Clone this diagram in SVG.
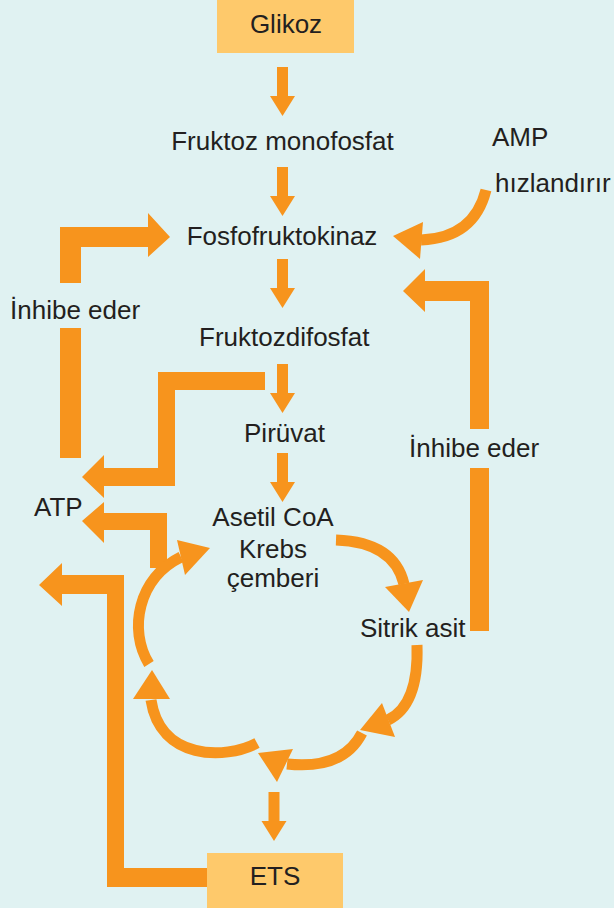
<svg xmlns="http://www.w3.org/2000/svg" width="614" height="908" viewBox="0 0 614 908">
<style>
.t{font-family:"Liberation Sans",Arial,sans-serif;font-size:26px;fill:#231F20}
.m{text-anchor:middle}
.o{fill:#F7941D}
.s{fill:none;stroke:#F7941D;stroke-width:11}
.box{fill:#FEC96B}
</style>
<defs>
<path id="da" d="M-5.5 0H5.5V29H12.5L0 49L-12.5 29H-5.5Z"/>
</defs>
<rect width="614" height="908" fill="#E0F2F2"/>
<g id="glikoz"><rect class="box" x="217" y="0" width="137" height="53"/><text class="t m" x="286" y="33">Glikoz</text></g>
<g id="fruktoz-monofosfat"><text class="t m" x="282.5" y="150">Fruktoz monofosfat</text></g>
<g id="fosfofruktokinaz"><text class="t m" x="282" y="245">Fosfofruktokinaz</text></g>
<g id="fruktozdifosfat"><text class="t" x="199" y="346">Fruktozdifosfat</text></g>
<g id="piruvat"><text class="t m" x="284.5" y="442">Pirüvat</text></g>
<g id="krebs"><text class="t m" x="273" y="526">Asetil CoA</text><text class="t m" x="273" y="558">Krebs</text><text class="t m" x="273" y="587">çemberi</text></g>
<g id="atp"><text class="t" x="34" y="516">ATP</text></g>
<g id="sitrik-asit"><text class="t" x="360" y="637">Sitrik asit</text></g>
<g id="amp"><text class="t" x="492" y="146">AMP</text><text class="t" x="495" y="192">hızlandırır</text></g>
<g id="ets"><rect class="box" x="207" y="853" width="136" height="55"/><text class="t m" x="275" y="885">ETS</text></g>
<g id="connectors">
<use href="#da" class="o" x="282.5" y="67"/>
<use href="#da" class="o" x="282.5" y="167"/>
<use href="#da" class="o" x="282.5" y="259"/>
<use href="#da" class="o" x="282.5" y="364"/>
<use href="#da" class="o" x="282.5" y="453"/>
<use href="#da" class="o" x="274" y="792"/>
<path class="o" d="M60 283V227H148V213L170 237L148 257V247H81V283Z"/>
<rect class="o" x="60" y="328" width="21" height="130"/>
<text class="t" x="10" y="319">İnhibe eder</text>
<path class="o" d="M265 372H158V468H104V455L82 477L104 498V486H175V390H265Z"/>
<path class="o" d="M167 568V513H104V502L82 521L104 543V530H150V568Z"/>
<path class="o" d="M207 868H124V575H62V563L39 585L62 606V594H107V887H207Z"/>
<path class="o" d="M470 429V301H425V312L403 291L425 269V281H489V429Z"/>
<rect class="o" x="470" y="468" width="19" height="163"/>
<text class="t" x="409" y="457">İnhibe eder</text>
<path class="s" d="M486 190Q474 238 421 240"/>
<path class="o" d="M423 222L393 236L420 259Z"/>
<path class="s" d="M336 540Q394 542 404 584"/>
<path class="o" d="M385 587L423 580L409 612Z"/>
<path class="s" d="M417 645Q419 705 388 720"/>
<path class="o" d="M382 703L395 737L360 730Z"/>
<path class="s" d="M362 733Q343 770 287 764"/>
<path class="o" d="M258 753L293 749L277 782Z"/>
<path class="s" d="M257 743C225 760 160 760 151 700"/>
<path class="o" d="M133 699L170 699L152 670Z"/>
<path class="s" d="M149 664C128 630 138 578 181 557"/>
<path class="o" d="M177 540L210 548L185 575Z"/>
</g>
</svg>
